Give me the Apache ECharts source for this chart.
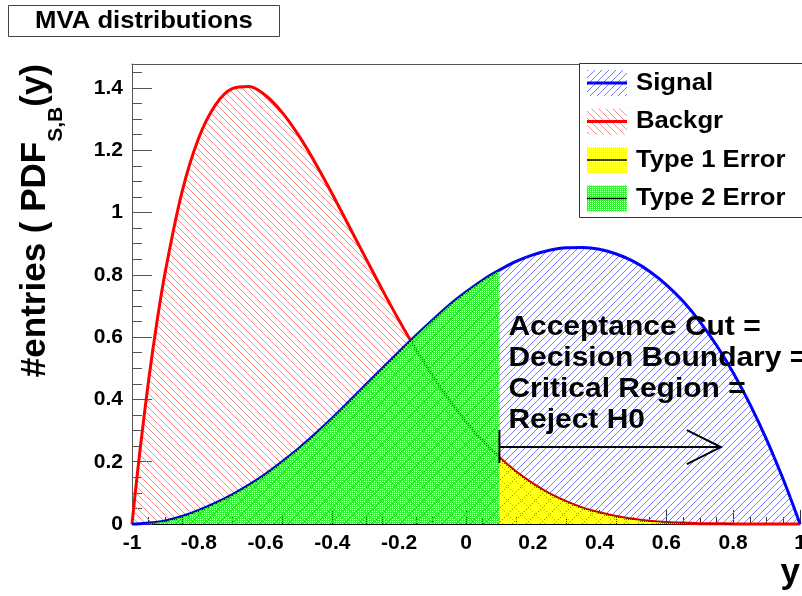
<!DOCTYPE html>
<html>
<head>
<meta charset="utf-8">
<script src="https://cdn.jsdelivr.net/npm/echarts@6/dist/echarts.min.js"></script>
<style>
  html, body { margin: 0; padding: 0; background: #fff; }
  #main { width: 802px; height: 596px; }
</style>
</head>
<body>
<div id="main"></div>
<script>
// MVA output y, sampled on [-1, 1] (denser near the steep edges)
const yPoints = [-1, -0.99, -0.975, -0.95, -0.925, -0.9, -0.85, -0.8, -0.75, -0.7, -0.65, -0.6,
  -0.55, -0.5, -0.45, -0.4, -0.35, -0.3, -0.25, -0.2, -0.15, -0.1, -0.05, 0, 0.05, 0.1,
  0.15, 0.2, 0.25, 0.3, 0.35, 0.4, 0.45, 0.5, 0.55, 0.6, 0.65, 0.7, 0.75, 0.8, 0.85, 0.9,
  0.95, 0.975, 0.99, 1];

// PDF of the signal sample
const signalPdf = [0, 0.000, 0.001, 0.003, 0.006, 0.010, 0.024, 0.044, 0.067, 0.094, 0.125, 0.160,
  0.200, 0.243, 0.290, 0.340, 0.393, 0.447, 0.500, 0.553, 0.605, 0.655, 0.703, 0.745, 0.783, 0.815,
  0.843, 0.864, 0.879, 0.887, 0.888, 0.882, 0.867, 0.844, 0.811, 0.768, 0.715, 0.650, 0.574, 0.486, 0.385, 0.271,
  0.143, 0.073, 0.030, 0];

// PDF of the background sample
const backgrPdf = [0, 0.102, 0.246, 0.463, 0.651, 0.812, 1.067, 1.240, 1.346, 1.398, 1.405, 1.376,
  1.321, 1.246, 1.157, 1.059, 0.956, 0.853, 0.751, 0.653, 0.561, 0.476, 0.398, 0.328, 0.267, 0.213,
  0.167, 0.129, 0.097, 0.072, 0.051, 0.036, 0.024, 0.015, 0.009, 0.005, 0.003, 0.001, 0.001, 0, 0, 0,
  0, 0, 0, 0];

// acceptance cut on y
const cutValue = 0.1;

const seriesNames = ['Signal', 'Backgr', 'Type 1 Error', 'Type 2 Error'];
const annotationLines = ['Acceptance Cut =', 'Decision Boundary =', 'Critical Region =', 'Reject H0'];
const titleText = 'MVA distributions';
const xTitle = 'y';
const yTitleParts = ['#entries ( PDF', 'S,B', '(y)'];

// axis ranges / tick steps
const xRange = [-1, 1];
const xMajor = 0.2;
const yRange = [0, 1.477];
const yMajor = 0.2;
const yMinor = 0.05;

const FONT = '"Liberation Sans", Arial, Helvetica, sans-serif';
const WIDE = 1.07; // horizontal stretch of the overlay lettering

// ---- fill patterns ----
function hatch(color, rising, p) {
  const c = document.createElement('canvas');
  c.width = p; c.height = p;
  const g = c.getContext('2d');
  g.fillStyle = color;
  for (let i = 0; i < p; i++) {
    g.fillRect(i, rising ? p - 1 - i : i, 1, 1);
  }
  return { image: c, repeat: 'repeat' };
}
function dotted(color) {
  const c = document.createElement('canvas');
  c.width = 2; c.height = 2;
  const g = c.getContext('2d');
  g.fillStyle = color;
  g.fillRect(0, 0, 2, 2);
  g.clearRect(0, 1, 1, 1);
  return { image: c, repeat: 'repeat' };
}
const blueHatch = hatch('#7a7aff', true, 7);
const redHatch = hatch('#ff8a8a', false, 7);
const greenFill = dotted('#38f038');
const yellowFill = dotted('#ffff10');

const sigPairs = yPoints.map((x, i) => [x, signalPdf[i]]);
const bkgPairs = yPoints.map((x, i) => [x, backgrPdf[i]]);
const type2Pairs = sigPairs.filter(p => p[0] <= cutValue + 1e-9);
const type1Pairs = bkgPairs.filter(p => p[0] >= cutValue - 1e-9 && p[0] <= 0.8);

const chart = echarts.init(document.getElementById('main'), null, { renderer: 'canvas' });

const axisLabelStyle = { fontFamily: FONT, fontWeight: 'bold', fontSize: 21, color: '#000' };

chart.setOption({
  animation: false,
  backgroundColor: '#fff',
  grid: { left: 132, top: 64, right: 2, bottom: 72, containLabel: false, outerBoundsMode: 'none' },
  xAxis: [{
    type: 'value', min: xRange[0], max: xRange[1], interval: xMajor,
    axisLine: { show: true, onZero: false, lineStyle: { color: '#000', width: 1 } },
    axisTick: { show: true, inside: true, length: 14, lineStyle: { color: '#333' } },
    minorTick: { show: true, splitNumber: 4, length: 7, lineStyle: { color: '#333' } },
    axisLabel: Object.assign({ margin: 9 }, axisLabelStyle),
    splitLine: { show: false }
  }, {
    type: 'value', position: 'top', min: xRange[0], max: xRange[1],
    axisLine: { show: true, onZero: false, lineStyle: { color: '#555', width: 1 } },
    axisTick: { show: false }, axisLabel: { show: false }, splitLine: { show: false }
  }],
  yAxis: [{
    type: 'value', position: 'left', min: yRange[0], max: yRange[1], interval: yMajor,
    axisLine: { show: true, onZero: false, lineStyle: { color: '#555', width: 1 } },
    axisTick: { show: true, inside: true, length: 20, lineStyle: { color: '#555' } },
    axisLabel: Object.assign({ margin: 9, showMaxLabel: false }, axisLabelStyle),
    splitLine: { show: false }
  }, {
    type: 'value', position: 'left', offset: 0, min: yRange[0], max: yRange[1], interval: yMinor,
    axisLine: { show: false, onZero: false },
    axisTick: { show: true, inside: true, length: 10, lineStyle: { color: '#555' } },
    axisLabel: { show: false }, splitLine: { show: false }
  }],
  series: [{
    name: seriesNames[1], type: 'line', data: bkgPairs, smooth: 0.35, showSymbol: false, clip: false,
    lineStyle: { color: '#ff0000', width: 3 }, areaStyle: { color: redHatch, opacity: 1 }, z: 2
  }, {
    name: seriesNames[0], type: 'line', data: sigPairs, smooth: 0.35, showSymbol: false, clip: false,
    lineStyle: { color: '#0000ff', width: 3 }, areaStyle: { color: blueHatch, opacity: 1 }, z: 2
  }, {
    name: seriesNames[3], type: 'line', data: type2Pairs, smooth: 0.35, showSymbol: false, clip: false,
    lineStyle: { color: '#000033', width: 1, opacity: 0.7 }, areaStyle: { color: greenFill, opacity: 1 }, z: 3
  }, {
    name: seriesNames[2], type: 'line', data: type1Pairs, smooth: 0.35, showSymbol: false, clip: false,
    lineStyle: { color: '#330000', width: 1, opacity: 0.7 }, areaStyle: { color: yellowFill, opacity: 1 }, z: 3
  }]
});

// ---- overlay: titles, legend, cut annotation ----
function textWidth(str, font) {
  const g = document.createElement('canvas').getContext('2d');
  g.font = font;
  return g.measureText(str).width;
}

const gfx = [];

// title box
gfx.push({ type: 'rect', shape: { x: 8.5, y: 5.5, width: 271, height: 31 },
  style: { fill: '#fff', stroke: '#444', lineWidth: 1 }, z: 100 });
gfx.push({ type: 'text', x: 144, y: 21, scaleX: WIDE, z: 101,
  style: { text: titleText, font: 'bold 24px ' + FONT, fill: '#000', align: 'center', verticalAlign: 'middle' } });

// y axis title (rotated, with subscript)
const mainFont = 'bold 35px ' + FONT;
const subFont = 'bold 21px ' + FONT;
const wEnd = textWidth(yTitleParts[2], mainFont);
const wSub = textWidth(yTitleParts[1], subFont);
gfx.push({ type: 'group', x: 35, y: 64, rotation: Math.PI / 2, z: 101, children: [
  { type: 'text', x: 0, y: 0, style: { text: yTitleParts[2], font: mainFont, fill: '#000', align: 'right', verticalAlign: 'middle' } },
  { type: 'text', x: -wEnd, y: 21.5, style: { text: yTitleParts[1], font: subFont, fill: '#000', align: 'right', verticalAlign: 'middle' } },
  { type: 'text', x: -(wEnd + wSub), y: 0, style: { text: yTitleParts[0], font: mainFont, fill: '#000', align: 'right', verticalAlign: 'middle' } }
] });

// x axis title
gfx.push({ type: 'text', x: 800, y: 591, z: 101,
  style: { text: xTitle, font: 'bold 35px ' + FONT, fill: '#000', align: 'right', verticalAlign: 'bottom' } });

// legend
gfx.push({ type: 'rect', shape: { x: 579.5, y: 63.5, width: 240, height: 154 },
  style: { fill: '#fff', stroke: '#333', lineWidth: 1 }, z: 100 });
const legendRows = [
  { name: seriesNames[0], fill: blueHatch, line: '#0000ff', lw: 3 },
  { name: seriesNames[1], fill: redHatch, line: '#ff0000', lw: 3 },
  { name: seriesNames[2], fill: yellowFill, line: '#000', lw: 1.5 },
  { name: seriesNames[3], fill: greenFill, line: '#000', lw: 1.5 }
];
legendRows.forEach((r, i) => {
  const cy = 83 + i * 38.5;
  gfx.push({ type: 'rect', shape: { x: 587, y: cy - 13, width: 40, height: 26 }, style: { fill: r.fill }, z: 101 });
  gfx.push({ type: 'line', shape: { x1: 587, y1: cy, x2: 627, y2: cy }, style: { stroke: r.line, lineWidth: r.lw }, z: 102 });
  gfx.push({ type: 'text', x: 636, y: cy, scaleX: WIDE, z: 102,
    style: { text: r.name, font: 'bold 24px ' + FONT, fill: '#000', align: 'left', verticalAlign: 'middle' } });
});

// cut annotation: arrow from the cut towards the rejection region
const arrowLevel = 0.247;
const arrowEnd = 0.763;
const p0 = chart.convertToPixel({ xAxisIndex: 0, yAxisIndex: 0 }, [cutValue, arrowLevel]);
const p1 = chart.convertToPixel({ xAxisIndex: 0, yAxisIndex: 0 }, [arrowEnd, arrowLevel]);
const arrowStyle = { stroke: '#000', lineWidth: 2, fill: null };
gfx.push({ type: 'line', shape: { x1: p0[0], y1: p0[1] - 17, x2: p0[0], y2: p0[1] + 16 }, style: arrowStyle, z: 110 });
gfx.push({ type: 'line', shape: { x1: p0[0], y1: p0[1], x2: p1[0], y2: p1[1] }, style: arrowStyle, z: 110 });
gfx.push({ type: 'polyline', shape: { points: [[p1[0] - 34, p1[1] - 17], [p1[0], p1[1]], [p1[0] - 34, p1[1] + 17]] }, style: arrowStyle, z: 110 });
annotationLines.forEach((t, i) => {
  gfx.push({ type: 'text', x: p0[0] + 9, y: p0[1] - 27 - (annotationLines.length - 1 - i) * 31, scaleX: WIDE, z: 110,
    style: { text: t, font: 'bold 28px ' + FONT, fill: '#000', align: 'left', verticalAlign: 'middle' } });
});

chart.setOption({ graphic: gfx });
</script>
</body>
</html>
